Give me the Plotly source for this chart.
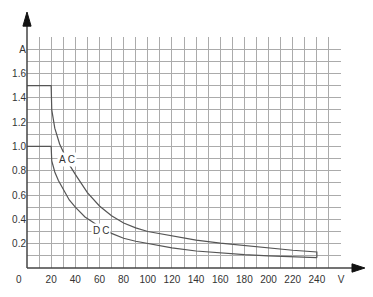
import plotly.graph_objects as go

# Read values
ac_v = [0, 20, 20.5, 23, 27, 30, 35, 40, 45, 50, 60, 70, 80, 90, 100, 120, 140, 160, 180, 200, 220, 240]
ac_a = [1.5, 1.5, 1.3, 1.15, 1.02, 0.96, 0.85, 0.77, 0.70, 0.62, 0.51, 0.43, 0.37, 0.33, 0.30, 0.265, 0.23, 0.205, 0.185, 0.165, 0.146, 0.132]
dc_v = [0, 20, 20.5, 23, 26, 30, 35, 40, 48, 54, 60, 70, 80, 90, 100, 120, 140, 160, 180, 200, 220, 240]
dc_a = [1.0, 1.0, 0.88, 0.79, 0.72, 0.65, 0.56, 0.50, 0.42, 0.38, 0.34, 0.285, 0.245, 0.22, 0.20, 0.165, 0.14, 0.122, 0.11, 0.10, 0.093, 0.085]

x_ticks = [20, 40, 60, 80, 100, 120, 140, 160, 180, 200, 220, 240, 260]
x_text = ["20", "40", "60", "80", "100", "120", "140", "160", "180", "200", "220", "240", "V"]
y_ticks = [0.2, 0.4, 0.6, 0.8, 1.0, 1.2, 1.4, 1.6, 1.8]
y_text = ["0.2", "0.4", "0.6", "0.8", "1.0", "1.2", "1.4", "1.6", "A"]

line_col = "#555555"
grid_col = "#ababab"
font = dict(family="Liberation Sans Narrow, Arial Narrow, Liberation Sans, sans-serif", size=10, color="#333333")

fig = go.Figure()
fig.add_trace(go.Scatter(x=ac_v + [ac_v[-1]], y=ac_a + [dc_a[-1]], mode="lines",
                         line=dict(color=line_col, width=1.2), showlegend=False, hoverinfo="skip"))
fig.add_trace(go.Scatter(x=dc_v, y=dc_a, mode="lines",
                         line=dict(color=line_col, width=1.2), showlegend=False, hoverinfo="skip"))

fig.add_annotation(x=33, y=0.89, text="A\u2009C", showarrow=False, bgcolor="white",
                   font=font, borderpad=1)
fig.add_annotation(x=61, y=0.31, text="D\u2009C", showarrow=False, bgcolor="white",
                   font=font, borderpad=1)
fig.add_annotation(x=-0.026, y=-0.048, xref="paper", yref="paper", text="0",
                   xanchor="center", yanchor="middle", showarrow=False, font=font)

# axis lines with arrows
fig.add_shape(type="line", xref="paper", yref="paper", x0=0, y0=0, x1=1.05, y1=0,
              line=dict(color="#444444", width=1.5))
fig.add_shape(type="line", xref="paper", yref="paper", x0=0, y0=0, x1=0, y1=1.07,
              line=dict(color="#444444", width=1.5))
fig.add_shape(type="path", xref="paper", yref="paper",
              path="M 1.035,-0.018 L 1.076,0 L 1.035,0.018 Z",
              fillcolor="#111111", line=dict(color="#111111", width=1))
fig.add_shape(type="path", xref="paper", yref="paper",
              path="M -0.013,1.047 L 0,1.108 L 0.013,1.047 Z",
              fillcolor="#111111", line=dict(color="#111111", width=1))

fig.update_layout(
    width=373, height=297,
    margin=dict(l=25, r=32, t=37, b=29),
    plot_bgcolor="white", paper_bgcolor="white",
    font=font,
    xaxis=dict(range=[0, 260], tickvals=x_ticks, ticktext=x_text, showgrid=True,
               gridcolor=grid_col, gridwidth=1, zeroline=False, showline=False,
               ticks="", tickfont=font, ticklabelstandoff=4,
               minor=dict(dtick=10, tick0=0, showgrid=True, gridcolor=grid_col, gridwidth=1)),
    yaxis=dict(range=[0, 1.9], tickvals=y_ticks, ticktext=y_text, showgrid=True,
               gridcolor=grid_col, gridwidth=1, zeroline=False, showline=False,
               ticks="", tickfont=font,
               minor=dict(dtick=0.1, tick0=0, showgrid=True, gridcolor=grid_col, gridwidth=1)),
)

fig.write_html("out.html")
